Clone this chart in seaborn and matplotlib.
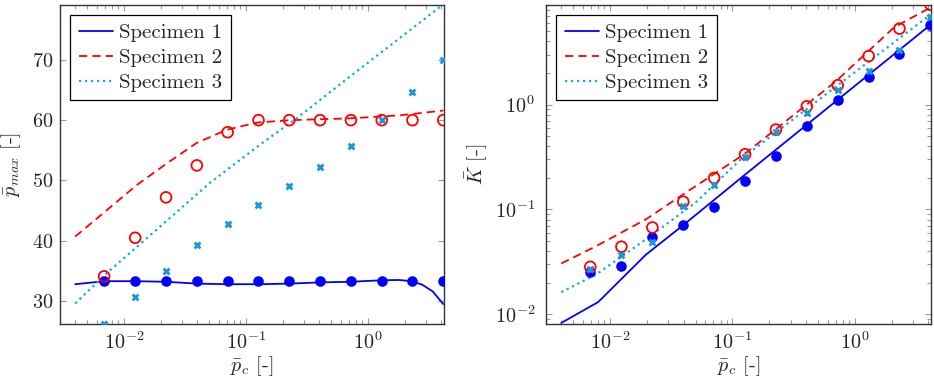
import matplotlib
matplotlib.use("Agg")
import matplotlib.pyplot as plt
import seaborn as sns
from matplotlib.ticker import LogLocator, NullFormatter, FixedLocator

# measurement points (shared x)
p_c = [0.0069, 0.0124, 0.0222, 0.0397, 0.0710, 0.127, 0.227, 0.406, 0.726, 1.30, 2.32, 4.15]

# left panel: maximum pressure, measured points
pmax_spec1 = [33.3, 33.3, 33.3, 33.3, 33.3, 33.3, 33.3, 33.3, 33.3, 33.3, 33.3, 33.3]
pmax_spec2 = [34.1, 40.5, 47.2, 52.5, 58.0, 60.0, 60.0, 60.0, 60.0, 60.0, 60.0, 60.0]
pmax_spec3 = [26.2, 30.6, 35.0, 39.3, 42.7, 46.0, 49.1, 52.3, 55.8, 60.0, 64.6, 70.0]

# left panel: model curves
pc_fit1 = [0.004, 0.007, 0.0127, 0.0224, 0.0394, 0.0695, 0.13, 0.23, 0.405, 0.711, 1.29, 1.8, 2.3, 2.8, 3.4, 4.15]
pmax_fit1 = [32.8, 33.3, 33.3, 33.2, 32.9, 32.8, 32.8, 32.9, 33.1, 33.2, 33.45, 33.5, 33.3, 32.7, 31.6, 29.5]
pc_fit2 = [0.004, 0.0068, 0.0127, 0.0224, 0.0394, 0.0695, 0.123, 0.23, 0.711, 1.83, 4.15]
pmax_fit2 = [40.7, 44.6, 49.2, 52.8, 56.2, 58.4, 59.6, 60.0, 60.3, 60.8, 61.6]
pc_fit3 = [0.004, 0.0077, 0.0197, 0.0507, 0.13, 0.26, 0.71, 4.15]
pmax_fit3 = [29.6, 35.1, 42.3, 49.6, 55.9, 60.3, 67.2, 79.2]

# right panel: stiffness, measured points
k_spec1 = [0.0255, 0.0291, 0.055, 0.0714, 0.1045, 0.186, 0.324, 0.631, 1.10, 1.82, 3.06, 5.78]
k_spec2 = [0.0284, 0.0442, 0.0674, 0.1186, 0.200, 0.336, 0.578, 0.963, 1.53, 2.90, 5.30, 9.0]
k_spec3 = [0.0272, 0.0371, 0.0493, 0.1075, 0.173, 0.317, 0.548, 0.839, 1.37, 2.08, 3.29, 6.83]

# right panel: model curves
pc_kfit1 = [0.004, 0.008, 0.0196, 0.0397, 0.127, 4.15]
k_fit1 = [0.0083, 0.0131, 0.037, 0.071, 0.215, 5.75]
pc_kfit2 = [0.004, 0.0077, 0.0196, 0.0413, 0.127, 0.69, 2.11, 4.15]
k_fit2 = [0.0306, 0.0447, 0.0804, 0.144, 0.341, 1.64, 5.48, 8.4]
pc_kfit3 = [0.004, 0.0077, 0.0196, 0.0498, 0.119, 4.15]
k_fit3 = [0.0163, 0.024, 0.0518, 0.116, 0.306, 7.2]

labels = ["Specimen 1", "Specimen 2", "Specimen 3"]

BLUE = "#0000FF"
RED = "#FF0000"
CYAN = "#0AAAE4"

sns.set_style("ticks")
plt.rcParams["font.family"] = ["cmr10"]
plt.rcParams["mathtext.fontset"] = "cm"
plt.rcParams["axes.formatter.use_mathtext"] = True
plt.rcParams["font.size"] = 14.5
plt.rcParams["axes.unicode_minus"] = True

fig = plt.figure(figsize=(9.34, 3.81), dpi=100)
ax1 = fig.add_axes([0.0642, 0.1496, 0.4111, 0.8373])
ax2 = fig.add_axes([0.5846, 0.1496, 0.4122, 0.8373])


def draw_panel(ax, fits, points):
    ax.set_xscale("log")
    styles = [dict(linestyle="-", linewidth=1.3),
              dict(linestyle=(0, (4.6, 2.8)), linewidth=1.3),
              dict(linestyle=(0, (1, 1.7)), linewidth=1.6)]
    colors = [BLUE, RED, CYAN]
    for (xs, ys), lab, col, st in zip(fits, labels, colors, styles):
        sns.lineplot(x=xs, y=ys, color=col, label=lab, ax=ax, **st)
    # measured points
    sns.scatterplot(x=p_c, y=points[0], color=BLUE, marker="o", s=58,
                    edgecolor=BLUE, linewidth=0, ax=ax, zorder=4)
    sns.scatterplot(x=p_c, y=points[1], marker="o", s=60, facecolors="none",
                    edgecolor=RED, linewidth=1.3, ax=ax, zorder=4)
    sns.scatterplot(x=p_c, y=points[2], marker="x", s=18, color="#1898D8",
                    linewidth=2.0, ax=ax, zorder=4)

    ax.set_xlim(0.003, 4.2)
    ax.xaxis.set_major_locator(FixedLocator([1e-2, 1e-1, 1e0]))
    ax.xaxis.set_minor_locator(LogLocator(base=10, subs=range(2, 10), numticks=20))
    ax.xaxis.set_minor_formatter(NullFormatter())
    ax.tick_params(which="both", direction="in", top=True, right=True,
                   color="#9a9a9a", width=0.8)
    ax.tick_params(which="major", length=4.5)
    ax.tick_params(which="major", axis="x", pad=5)
    ax.tick_params(which="minor", length=2.8)
    for sp in ax.spines.values():
        sp.set_color("#333333")
        sp.set_linewidth(1.0)
    leg = ax.legend(loc="upper left", frameon=True, fancybox=False,
                    edgecolor="black", framealpha=1, handlelength=1.65,
                    labelspacing=0.3, borderaxespad=0.5, borderpad=0.4,
                    handletextpad=0.3, fontsize=15)
    leg.get_frame().set_linewidth(0.9)
    ax.set_xlabel(r"$\bar{p}_c$ [-]", labelpad=1)


draw_panel(ax1, [(pc_fit1, pmax_fit1), (pc_fit2, pmax_fit2), (pc_fit3, pmax_fit3)],
           [pmax_spec1, pmax_spec2, pmax_spec3])
ax1.set_ylim(26.2, 79.1)
ax1.set_yticks([30, 40, 50, 60, 70])
ax1.tick_params(which="major", axis="y", pad=5)
ax1.set_ylabel(r"$\bar{p}_{max}$ [-]", labelpad=6)

draw_panel(ax2, [(pc_kfit1, k_fit1), (pc_kfit2, k_fit2), (pc_kfit3, k_fit3)],
           [k_spec1, k_spec2, k_spec3])
ax2.set_yscale("log")
ax2.set_ylim(0.0081, 8.9)
ax2.yaxis.set_major_locator(FixedLocator([1e-2, 1e-1, 1e0]))
ax2.yaxis.set_minor_locator(LogLocator(base=10, subs=range(2, 10), numticks=20))
ax2.yaxis.set_minor_formatter(NullFormatter())
ax2.tick_params(which="major", axis="y", pad=8)
ax2.set_ylabel(r"$\bar{K}$ [-]", labelpad=4)

fig.savefig("out.png", dpi=100)
